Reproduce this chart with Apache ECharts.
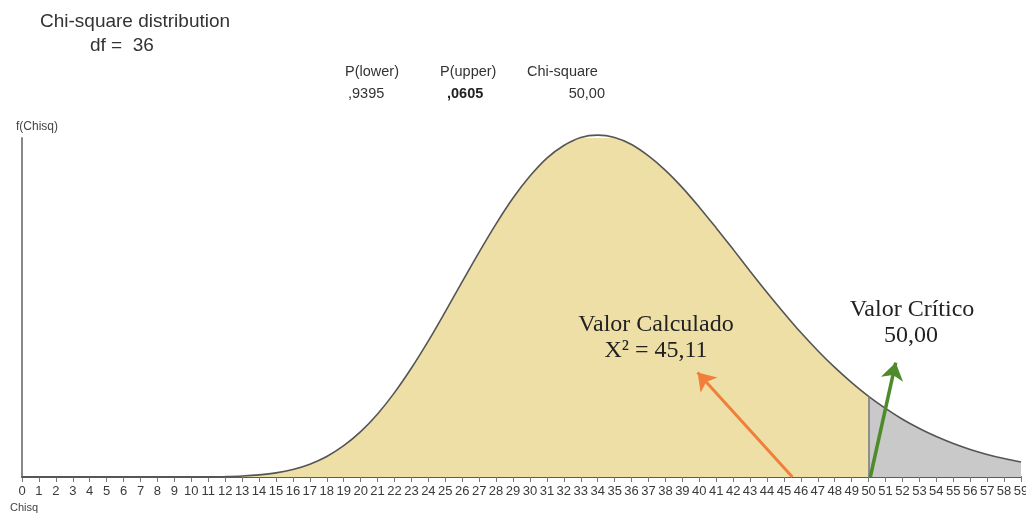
<!DOCTYPE html>
<html><head><meta charset="utf-8">
<script src="https://cdn.jsdelivr.net/npm/echarts@6/dist/echarts.min.js"></script>
<style>html,body{margin:0;padding:0;background:#fff;overflow:hidden}#c{width:1026px;height:516px}</style>
</head><body><div id="c"></div>
<script>
// Chisq values on the x axis
const xValues = [0,1,2,3,4,5,6,7,8,9,10,11,12,13,14,15,16,17,18,19,20,21,22,23,24,25,26,27,28,29,
  30,31,32,33,34,35,36,37,38,39,40,41,42,43,44,45,46,47,48,49,50,51,52,53,54,55,56,57,58,59];
// f(Chisq) (df = 36)
const density = [0,0,0,0,0,0,0,0,0,0,
  0.00001,0.00002,0.00006,0.00014,0.00030,0.00058,0.00106,0.00181,0.00289,0.00440,
  0.00638,0.00887,0.01187,0.01533,0.01915,0.02326,0.02749,0.03165,0.03562,0.03925,
  0.04234,0.04487,0.04665,0.04778,0.04811,0.04778,0.04679,0.04518,0.04315,0.04072,
  0.03797,0.03504,0.03203,0.02896,0.02597,0.02309,0.02032,0.01777,0.01542,0.01329,
  0.01135,0.00965,0.00813,0.00683,0.00569,0.00471,0.00388,0.00318,0.00259,0.00210];
const criticalValue = 50;
const headerLabels = ['P(lower)', 'P(upper)', 'Chi-square'];
const headerValues = [',9395', ',0605', '50,00'];
// arrow endpoints in data units [x, f]
const orangeArrow = [[45.5, 0], [39.9, 0.0147]];
const greenArrow = [[50.1, 0], [51.6, 0.0161]];

const all = xValues.map((x, i) => [x, density[i]]);
const lower = all.filter(p => p[0] <= criticalValue);
const upper = all.filter(p => p[0] >= criticalValue);
const critF = density[xValues.indexOf(criticalValue)];

const sans = 'Liberation Sans, Arial, sans-serif';
const serif = 'Liberation Serif, Times New Roman, serif';

const chart = echarts.init(document.getElementById('c'), null, {renderer: 'canvas', width: 1026, height: 516});
chart.setOption({
  animation: false,
  grid: {left: 22, right: 5, top: 138, bottom: 39, containLabel: false, outerBoundsMode: 'none'},
  xAxis: {
    type: 'value', min: 0, max: 59, interval: 1,
    axisLine: {lineStyle: {color: '#5a5a5a', width: 2}},
    axisTick: {length: 5, lineStyle: {color: '#777', width: 1}},
    axisLabel: {color: '#3a3a3a', fontSize: 13, fontFamily: sans, margin: 8, showMaxLabel: true},
    splitLine: {show: false}
  },
  yAxis: {
    type: 'value', min: 0, max: 0.0477,
    axisLine: {show: true, lineStyle: {color: '#888', width: 2}},
    axisTick: {show: false}, axisLabel: {show: false}, splitLine: {show: false}
  },
  series: [
    {type: 'line', data: lower, smooth: 0.35, symbol: 'none',
     lineStyle: {width: 0}, areaStyle: {color: '#EEDFA6', opacity: 1}, z: 1, silent: true},
    {type: 'line', data: upper, smooth: 0.35, symbol: 'none',
     lineStyle: {width: 0}, areaStyle: {color: '#C9C9C9', opacity: 1}, z: 1, silent: true,
     markLine: {silent: true, symbol: ['none', 'none'], label: {show: false},
       lineStyle: {color: '#777', width: 1.5, type: 'solid'},
       data: [[{coord: [criticalValue, 0]}, {coord: [criticalValue, critF]}]]}},
    {type: 'line', data: all, smooth: 0.35, symbol: 'none', clip: false,
     lineStyle: {color: '#555', width: 1.6}, z: 3, silent: true,
     markLine: {silent: true, symbol: ['none', 'arrow'], symbolSize: 17, label: {show: false},
       data: [
         [{coord: orangeArrow[0], lineStyle: {color: '#F07F3C', width: 3, type: 'solid'}, itemStyle: {color: '#F07F3C'}}, {coord: orangeArrow[1]}],
         [{coord: greenArrow[0], lineStyle: {color: '#4F8A2B', width: 3.5, type: 'solid'}, itemStyle: {color: '#4F8A2B'}}, {coord: greenArrow[1]}]
       ]}}
  ],
  graphic: [
    {type: 'text', z: 100, left: 40, top: 12, style: {text: 'Chi-square distribution', fill: '#333', font: '19px ' + sans}},
    {type: 'text', z: 100, left: 90, top: 36, style: {text: 'df =  36', fill: '#333', font: '19px ' + sans}},
    {type: 'text', z: 100, left: 345, top: 64, style: {text: headerLabels[0], fill: '#333', font: '14.5px ' + sans}},
    {type: 'text', z: 100, left: 440, top: 64, style: {text: headerLabels[1], fill: '#333', font: '14.5px ' + sans}},
    {type: 'text', z: 100, left: 527, top: 64, style: {text: headerLabels[2], fill: '#333', font: '14.5px ' + sans}},
    {type: 'text', z: 100, left: 348, top: 86, style: {text: headerValues[0], fill: '#333', font: '14.5px ' + sans}},
    {type: 'text', z: 100, left: 447, top: 86, style: {text: headerValues[1], fill: '#222', font: 'bold 14.5px ' + sans}},
    {type: 'text', z: 100, right: 421, top: 86, style: {text: headerValues[2], fill: '#333', font: '14.5px ' + sans}},
    {type: 'text', z: 100, left: 16, top: 121, style: {text: 'f(Chisq)', fill: '#444', font: '12px ' + sans}},
    {type: 'text', z: 100, left: 10, top: 502, style: {text: 'Chisq', fill: '#444', font: '11px ' + sans}},
    {type: 'text', z: 100, x: 656, y: 337, style: {text: 'Valor Calculado', fill: '#222', font: '24px ' + serif, textAlign: 'center', textVerticalAlign: 'bottom'}},
    {type: 'text', z: 100, x: 656, y: 363, style: {text: 'X² = 45,11', fill: '#222', font: '24px ' + serif, textAlign: 'center', textVerticalAlign: 'bottom'}},
    {type: 'text', z: 100, x: 912, y: 322, style: {text: 'Valor Crítico', fill: '#222', font: '24px ' + serif, textAlign: 'center', textVerticalAlign: 'bottom'}},
    {type: 'text', z: 100, x: 911, y: 348, style: {text: '50,00', fill: '#222', font: '24px ' + serif, textAlign: 'center', textVerticalAlign: 'bottom'}}
  ]
});
</script></body></html>
